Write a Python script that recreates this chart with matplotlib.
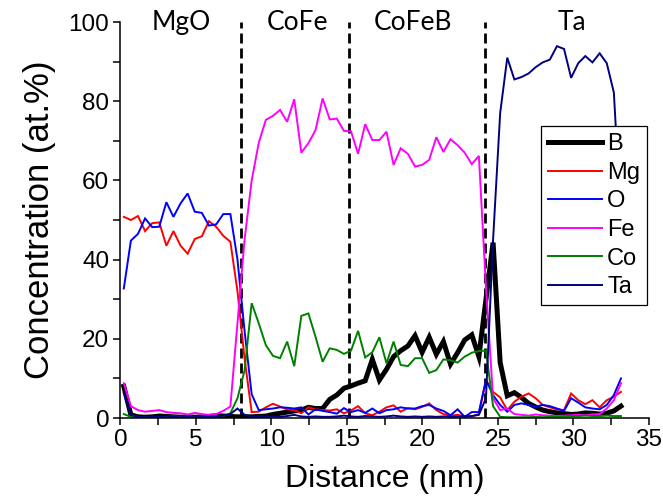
import matplotlib
matplotlib.use("Agg")
import matplotlib.pyplot as plt
from matplotlib.ticker import MultipleLocator

# Depth profile sampling positions (nm)
distance = [0.22, 0.69, 1.16, 1.63, 2.10, 2.57, 3.04, 3.51, 3.98, 4.45,
            4.92, 5.39, 5.86, 6.34, 6.81, 7.28, 7.75, 8.22, 8.69, 9.16,
            9.63, 10.10, 10.57, 11.04, 11.51, 11.98, 12.45, 12.92, 13.39, 13.86,
            14.33, 14.80, 15.27, 15.74, 16.21, 16.68, 17.15, 17.62, 18.09, 18.56,
            19.04, 19.51, 19.98, 20.45, 20.92, 21.39, 21.86, 22.33, 22.80, 23.27,
            23.74, 24.21, 24.68, 25.15, 25.62, 26.09, 26.56, 27.03, 27.50, 27.97,
            28.44, 28.91, 29.38, 29.85, 30.32, 30.79, 31.26, 31.74, 32.21, 32.68, 33.15]

conc_B = [8.0, 0.8, 0.3, 0.2, 0.3, 0.5, 0.4, 0.3, 0.2, 0.3,
          0.2, 0.3, 0.4, 0.6, 0.5, 0.4, 0.3, 0.3, 0.3, 0.4,
          0.5, 0.9, 1.2, 1.5, 1.8, 2.0, 2.7, 2.4, 2.4, 4.7,
          5.8, 7.5, 8.1, 8.8, 9.4, 14.8, 9.6, 12.3, 15.5, 17.0,
          18.2, 20.8, 16.6, 20.4, 16.1, 19.3, 13.6, 16.5, 19.7, 21.0,
          15.5, 30.0, 44.3, 14.0, 5.6, 6.4, 5.2, 3.7, 2.8, 2.0,
          1.6, 1.3, 1.1, 0.9, 1.0, 1.3, 1.2, 1.0, 1.2, 1.8, 3.0]

conc_Mg = [50.8, 50.0, 51.0, 47.2, 49.2, 49.4, 43.5, 47.2, 43.5, 41.5,
           45.2, 45.9, 49.7, 48.3, 46.0, 44.5, 32.0, 15.0, 1.5, 1.6,
           2.7, 3.6, 2.9, 2.2, 2.0, 1.2, 2.7, 2.2, 2.0, 1.9,
           2.2, 1.2, 1.9, 3.0, 1.2, 0.7, 1.6, 2.7, 3.2, 1.6,
           2.5, 2.2, 2.8, 3.7, 2.0, 1.0, 0.6, 0.8, 0.4, 0.4,
           1.0, 9.6, 6.6, 5.2, 2.0, 4.1, 5.4, 6.2, 5.0, 3.3,
           2.7, 2.2, 2.0, 6.2, 4.5, 3.5, 4.5, 2.7, 4.5, 5.4, 6.6]

conc_O = [32.7, 44.8, 46.5, 50.4, 48.2, 48.3, 54.5, 50.8, 54.2, 56.7,
          52.1, 51.8, 48.6, 48.9, 51.5, 51.5, 40.0, 22.0, 6.0, 2.0,
          2.2, 2.4, 2.7, 2.6, 2.4, 2.7, 0.9, 2.2, 1.8, 1.5,
          1.1, 2.5, 1.5, 2.0, 1.3, 2.4, 1.2, 2.0, 2.2, 2.7,
          2.4, 2.4, 3.0, 3.3, 2.4, 1.8, 0.7, 2.2, 0.3, 1.5,
          1.5, 9.6, 5.8, 3.3, 1.6, 3.3, 3.7, 3.3, 2.9, 3.3,
          3.0, 2.4, 1.8, 5.0, 3.9, 2.7, 2.4, 2.2, 3.3, 5.8, 10.0]

conc_Fe = [8.8, 3.0, 2.0, 1.6, 1.8, 2.0, 1.5, 1.3, 1.2, 0.9,
           1.3, 1.0, 0.8, 1.0, 1.8, 2.9, 24.0, 45.0, 60.0, 69.5,
           75.3, 76.3, 77.8, 74.8, 80.5, 67.0, 69.4, 72.7, 80.7, 75.4,
           75.6, 72.5, 72.4, 66.7, 74.2, 70.2, 70.2, 72.3, 63.9, 68.1,
           66.7, 63.5, 63.9, 65.2, 70.9, 67.2, 70.4, 68.9, 67.0, 64.1,
           66.2, 33.0, 5.0, 2.0, 2.4, 1.0, 0.8, 0.6, 0.9, 0.7,
           0.6, 0.5, 0.6, 0.7, 0.8, 0.7, 0.9, 1.0, 2.4, 4.5, 8.8]

conc_Co = [1.0, 0.3, 0.2, 0.2, 0.3, 0.2, 0.3, 0.4, 0.3, 0.2,
           0.3, 0.2, 0.3, 0.4, 0.5, 1.2, 5.0, 12.0, 29.0, 23.9,
           18.4, 15.7, 15.1, 19.3, 13.1, 25.8, 26.4, 20.5, 14.2, 17.6,
           17.2, 16.2, 17.0, 22.0, 15.3, 16.6, 20.4, 13.8, 19.3, 13.4,
           13.1, 15.1, 15.1, 11.4, 12.1, 14.8, 14.6, 14.0, 15.5, 16.5,
           16.9, 17.0, 3.0, 0.3, 0.2, 0.2, 0.2, 0.2, 0.3, 0.2,
           0.3, 0.3, 0.4, 0.5, 0.5, 0.6, 0.5, 0.5, 0.6, 0.5, 0.5]

conc_Ta = [6.4, 0.8, 0.3, 0.2, 0.3, 0.3, 0.2, 0.3, 0.2, 0.3,
           0.2, 0.3, 0.3, 0.4, 0.6, 1.0, 2.4, 0.8, 0.4, 0.4,
           0.3, 0.4, 0.3, 0.5, 0.8, 0.4, 0.3, 0.4, 0.3, 0.3,
           0.4, 0.6, 0.4, 0.3, 0.5, 0.4, 0.3, 0.4, 0.6, 0.4,
           0.3, 0.4, 0.3, 0.4, 0.3, 0.4, 0.3, 0.3, 0.4, 0.5,
           0.8, 5.0, 45.0, 77.0, 91.0, 85.5, 86.1, 87.0, 88.6, 89.8,
           90.5, 93.9, 93.2, 85.9, 89.6, 91.4, 89.8, 92.1, 89.6, 82.2, 50.0]

# Layer interfaces (nm) and layer names
interfaces = [8.0, 15.15, 24.15]
layer_names = ["MgO", "CoFe", "CoFeB", "Ta"]
layer_centers = [4.05, 11.7, 19.4, 29.9]

plt.rcParams["font.family"] = ["Liberation Sans", "DejaVu Sans"]

fig = plt.figure(figsize=(6.63, 4.98), dpi=100)
ax = fig.add_axes([0.1817, 0.1606, 0.797, 0.7952])

series = [
    ("B", conc_B, "black", 3.6),
    ("Mg", conc_Mg, "#ff0000", 1.4),
    ("O", conc_O, "#0000ff", 1.4),
    ("Fe", conc_Fe, "#ff00ff", 1.4),
    ("Co", conc_Co, "#008000", 1.4),
    ("Ta", conc_Ta, "#000080", 1.4),
]
for name, vals, color, lw in series:
    ax.plot(distance, vals, color=color, lw=lw, label=name,
            solid_joinstyle="miter")

for xi in interfaces:
    ax.plot([xi, xi], [0, 100], color="black", lw=2.0,
            ls=(0, (3.6, 1.8)), zorder=1)

for name, xc in zip(layer_names, layer_centers):
    ax.text(xc, 100, name, ha="center", va="center", fontsize=19,
            family=["Lato", "DejaVu Sans"], clip_on=False)

ax.set_xlim(0, 35)
ax.set_ylim(0, 100)
ax.xaxis.set_major_locator(MultipleLocator(5))
ax.xaxis.set_minor_locator(MultipleLocator(2.5))
ax.yaxis.set_major_locator(MultipleLocator(20))
ax.yaxis.set_minor_locator(MultipleLocator(10))

for side in ("top", "right"):
    ax.spines[side].set_visible(False)
for side in ("left", "bottom"):
    ax.spines[side].set_linewidth(1.1)

ax.tick_params(which="both", direction="out", length=5, width=1.1,
               labelsize=17.5, pad=3)

ax.set_xlabel("Distance (nm)", fontsize=23, labelpad=9)
ax.set_ylabel("Concentration (at.%)", fontsize=25, labelpad=9)

leg = ax.legend(loc="upper left", bbox_to_anchor=(0.796, 0.737),
                fontsize=17, frameon=True, fancybox=False,
                handlelength=2.3, handletextpad=0.2, labelspacing=0.28,
                borderpad=0.3, borderaxespad=0)
leg.get_frame().set_edgecolor("black")
leg.get_frame().set_linewidth(0.9)
leg.get_frame().set_alpha(1)

fig.savefig("out.png", dpi=100)
